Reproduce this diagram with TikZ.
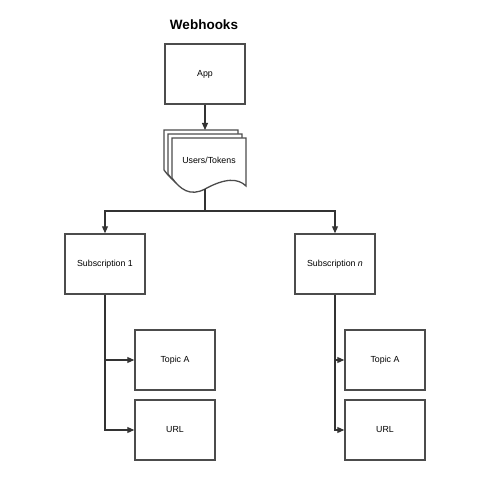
\documentclass[tikz,border=0pt]{standalone}
\usepackage{fontspec}
\setmainfont{Liberation Sans}
\usetikzlibrary{arrows.meta}

\tikzset{
  box/.style={draw=black!70, line width=1.5pt, fill=white, minimum width=80pt,
    minimum height=60pt, inner sep=0pt, font=\fontsize{8.8}{10}\selectfont},
  doc/.style={draw=black!70, line width=1.3pt, fill=white},
  link/.style={draw=black!80, line width=1.1pt, -{Triangle[length=7pt,width=6pt]}},
  wire/.style={draw=black!80, line width=1.1pt}
}

\begin{document}
\begin{tikzpicture}[x=1pt, y=-1pt]
	\useasboundingbox (0,0) rectangle (490,484);
	
	% Title
	\node[font=\bfseries\fontsize{13.5}{16}\selectfont] (title) at (204,25) {Webhooks};
	
	% App
	\node[box] (app) at (205,74) {App};
	
	% Users/Tokens stack
	\foreach \dx/\dy in {0/0, 4/4, 8/8} {
		\draw[doc] (164+\dx,130+\dy) -- (238+\dx,130+\dy) -- (238+\dx,178+\dy)
		.. controls (230+\dx,170+\dy) and (217+\dx,170+\dy) .. (197+\dx,181+\dy)
		.. controls (182+\dx,189+\dy) and (172+\dx,181+\dy) .. (164+\dx,170+\dy) -- cycle;
	}
	\node[font=\fontsize{8.8}{10}\selectfont] (users) at (209,160) {Users/Tokens};
	\coordinate (stacktop) at (205,130);
	\coordinate (stackbot) at (205,189);
	
	% Subscriptions
	\node[box] (sub1) at (105,264) {Subscription 1};
	\node[box] (subn) at (335,264) {Subscription \textit{n}};
	
	% Topics and URLs
	\node[box] (topic1) at (175,360) {Topic A};
	\node[box] (url1) at (175,430) {URL};
	\node[box] (topicn) at (385,360) {Topic A};
	\node[box] (urln) at (385,430) {URL};
	
	% Connectors
	\draw[link] (app) -- (stacktop);
	\coordinate (split) at (205,211);
	\draw[wire] (stackbot) -- (split);
	\draw[link] (split) -| (sub1.north);
	\draw[link] (split) -| (subn.north);
	
	\draw[link] (sub1.south) |- (url1.west);
	\draw[link] (sub1.south |- topic1.west) -- (topic1.west);
	\draw[link] (subn.south) |- (urln.west);
	\draw[link] (subn.south |- topicn.west) -- (topicn.west);
	
\end{tikzpicture}
\end{document}
